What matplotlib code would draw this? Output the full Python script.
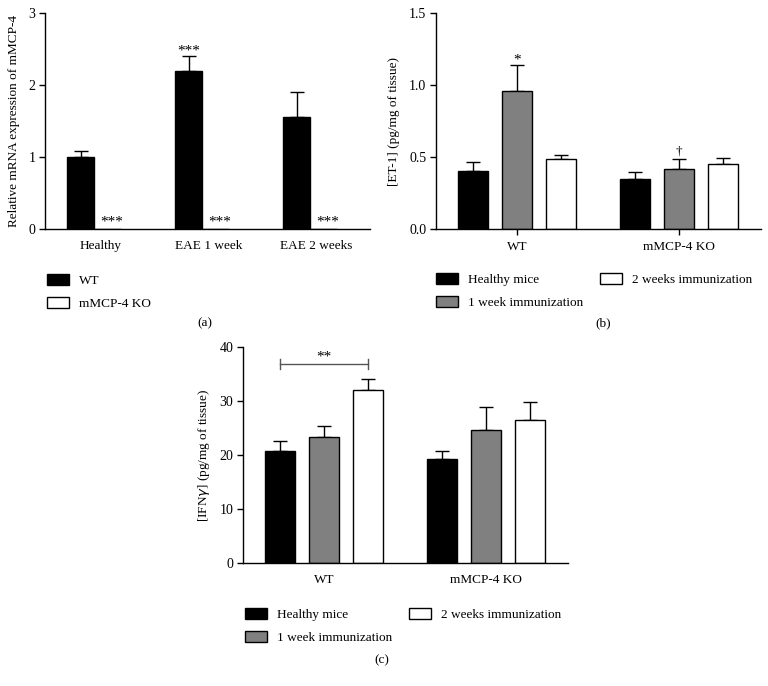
import numpy as np
import matplotlib
matplotlib.use("Agg")
import matplotlib.pyplot as plt
from matplotlib.patches import Patch

plt.rcParams['font.family'] = ['Liberation Serif', 'DejaVu Serif']
plt.rcParams['font.size'] = 9.5

# panel (a) data
a_groups = ["Healthy", "EAE 1 week", "EAE 2 weeks"]
a_wt = [1.0, 2.19, 1.55]
a_wt_err = [0.09, 0.21, 0.35]
a_ko = [0.0, 0.0, 0.0]

# panel (b) data: [ET-1]
b_groups = ["WT", "mMCP-4 KO"]
b_healthy = [0.40, 0.345]
b_healthy_err = [0.065, 0.048]
b_week1 = [0.96, 0.415]
b_week1_err = [0.18, 0.07]
b_week2 = [0.485, 0.45]
b_week2_err = [0.03, 0.04]

# panel (c) data: [IFNy]
c_groups = ["WT", "mMCP-4 KO"]
c_healthy = [20.8, 19.2]
c_healthy_err = [1.8, 1.6]
c_week1 = [23.3, 24.7]
c_week1_err = [2.1, 4.2]
c_week2 = [32.1, 26.5]
c_week2_err = [2.0, 3.3]

series_names = ["Healthy mice", "1 week immunization", "2 weeks immunization"]
series_colors = ["black", "#808080", "white"]

W, H = 768, 686
fig = plt.figure(figsize=(W / 100, H / 100), dpi=100)


def px_axes(l, r, t, b):
    return fig.add_axes([l / W, 1 - b / H, (r - l) / W, (b - t) / H])


def style(ax):
    for s in ["top", "right"]:
        ax.spines[s].set_visible(False)
    ax.spines["left"].set_linewidth(1)
    ax.spines["bottom"].set_linewidth(1)
    ax.tick_params(axis="y", length=4, width=1, pad=3, labelsize=10)


def up_err(ax, x, y, e):
    ax.errorbar(x, y, yerr=[np.zeros(len(e)), e], fmt="none", ecolor="black",
                elinewidth=1, capsize=5, capthick=1, zorder=1)


# ---------- (a)
ax = px_axes(45, 370, 13, 229)
style(ax)
x = np.arange(len(a_groups))
bw = 0.25
up_err(ax, x - bw / 2, a_wt, a_wt_err)
ax.bar(x - bw / 2, a_wt, bw, color="black", edgecolor="black", lw=1, zorder=2)
ax.bar(x + bw / 2, a_ko, bw, color="white", edgecolor="black", lw=1, zorder=2)
ax.set_xlim(-0.454, 2.555)
ax.set_ylim(0, 3)
ax.set_yticks([0, 1, 2, 3])
ax.set_xticks(x + 0.06)
ax.set_xticklabels(a_groups)
ax.tick_params(axis="x", length=0, pad=8)
ax.set_ylabel("Relative mRNA expression of mMCP-4")
ax.yaxis.set_label_coords(-0.077, 0.5)
ax.text(1 - bw / 2, 2.47, "***", ha="center", va="center", fontsize=11)
for i in x:
    ax.text(i + bw / 2 + 0.04, 0.1, "***", ha="center", va="center", fontsize=11)
ax.legend([Patch(facecolor="black", edgecolor="black"),
           Patch(facecolor="white", edgecolor="black")],
          ["WT", "mMCP-4 KO"], loc="upper left",
          bbox_to_anchor=(43 / W, 1 - 270 / H), bbox_transform=fig.transFigure,
          frameon=False, handlelength=1.7, handleheight=0.95,
          handletextpad=0.7, labelspacing=0.75, borderaxespad=0, borderpad=0.3)
fig.text(205 / W, 1 - 323 / H, "(a)", ha="center", va="center")


def grouped(ax, hs, hes, w1, w1e, w2, w2e, groups):
    x = np.arange(len(groups))
    step = 0.272
    bw = 0.185
    vals = [hs, w1, w2]
    errs = [hes, w1e, w2e]
    for k in range(3):
        up_err(ax, x + (k - 1) * step, vals[k], errs[k])
        ax.bar(x + (k - 1) * step, vals[k], bw, color=series_colors[k],
               edgecolor="black", lw=1, zorder=2)
    ax.set_xlim(-0.5, 1.506)
    ax.set_xticks(x)
    ax.set_xticklabels(groups)
    return x, step


def legend3(ax, y_px, x_px):
    handles = [Patch(facecolor=c, edgecolor="black") for c in series_colors]
    ax.legend(handles, series_names, loc="upper left", ncol=2,
              bbox_to_anchor=(x_px / W, 1 - y_px / H), bbox_transform=fig.transFigure,
              frameon=False, handlelength=1.7, handleheight=0.95,
              handletextpad=0.7, labelspacing=0.75, columnspacing=1.3,
              borderaxespad=0, borderpad=0.3)


# ---------- (b)
ax = px_axes(436, 761, 13, 229)
style(ax)
x, step = grouped(ax, b_healthy, b_healthy_err, b_week1, b_week1_err,
                  b_week2, b_week2_err, b_groups)
ax.set_ylim(0, 1.5)
ax.set_yticks([0, 0.5, 1.0, 1.5])
ax.set_yticklabels(["0.0", "0.5", "1.0", "1.5"])
ax.tick_params(axis="x", length=4, width=1, pad=5)
ax.set_ylabel("[ET-1] (pg/mg of tissue)")
ax.yaxis.set_label_coords(-0.11, 0.5)
ax.text(x[0], 1.17, "*", ha="center", va="center", fontsize=11)
ax.text(x[1], 0.535, "†", ha="center", va="center")
legend3(ax, 269, 432)
fig.text(603 / W, 1 - 323 / H, "(b)", ha="center", va="center")

# ---------- (c)
ax = px_axes(243, 568, 347, 563)
style(ax)
x, step = grouped(ax, c_healthy, c_healthy_err, c_week1, c_week1_err,
                  c_week2, c_week2_err, c_groups)
ax.set_ylim(0, 40)
ax.set_yticks([0, 10, 20, 30, 40])
ax.tick_params(axis="x", length=0, pad=8)
ax.set_ylabel("[IFN$\\gamma$] (pg/mg of tissue)")
ax.yaxis.set_label_coords(-0.095, 0.5)
yb = 36.85
ax.plot([x[0] - step, x[0] + step], [yb, yb], color="#555555", lw=1)
for xx in [x[0] - step, x[0] + step]:
    ax.plot([xx, xx], [yb - 1.0, yb + 1.0], color="#555555", lw=1)
ax.text(x[0], 38.2, "**", ha="center", va="center", fontsize=11)
legend3(ax, 604, 241)
fig.text(382 / W, 1 - 660 / H, "(c)", ha="center", va="center")

fig.savefig("out.png", dpi=100)
